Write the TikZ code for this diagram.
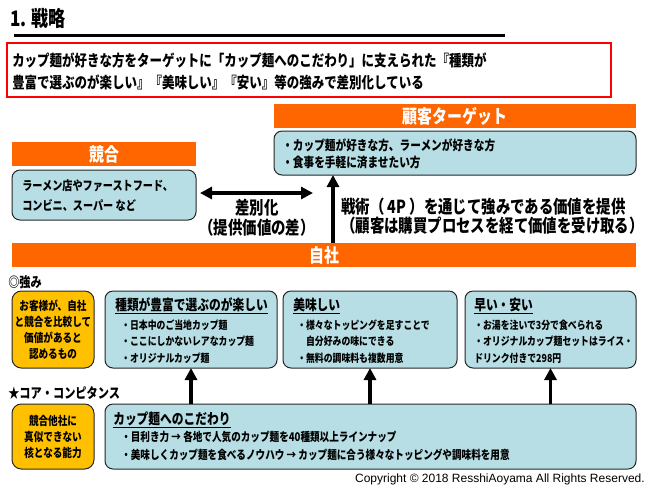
\documentclass[tikz,border=0pt]{standalone}
\usepackage{fontspec}
\setmainfont[FakeStretch=0.8]{Noto Sans CJK JP}
\newfontfamily\latinfont{Liberation Sans}
\usetikzlibrary{arrows.meta,fit}
\definecolor{barorange}{RGB}{255,102,0}
\definecolor{boxblue}{RGB}{183,222,228}
\definecolor{boxyellow}{RGB}{255,192,0}
\newcommand{\fs}[2]{\fontsize{#1}{#2}\selectfont}
\begin{document}
\begin{tikzpicture}[x=0.75pt,y=-0.75pt,
  area/.style={inner sep=0pt, outer sep=0pt},
  bar/.style={area, fill=barorange},
  barlabel/.style={inner sep=0pt, text=white, font=\bfseries\fs{14pt}{16pt}},
  bluebox/.style={area, fill=boxblue, draw=black!85, line width=0.75pt, rounded corners=6pt},
  yellowbox/.style={area, fill=boxyellow, draw=black!85, line width=0.75pt, rounded corners=7pt},
  yellowtext/.style={inner sep=0pt, align=center, font=\bfseries\fs{9pt}{12pt}},
  txt/.style={inner sep=0pt, align=left, anchor=west, font=\bfseries\fs{8.3pt}{12.4pt}},
  boxtitle/.style={inner sep=0pt, anchor=west, font=\bfseries\fs{11pt}{13pt}},
  bigarrow/.style={line width=2.4pt, -{Triangle[length=9pt,width=9pt]}},
  dblarrow/.style={line width=2.4pt, {Triangle[length=9pt,width=9pt]}-{Triangle[length=9pt,width=9pt]}}
]
\useasboundingbox (0,0) rectangle (650,487);

% title
\node[anchor=west, inner sep=0pt, font=\bfseries\fs{16pt}{18pt}] (title) at (10,18) {1. 戦略};
\coordinate (ruleL) at (14,35);
\coordinate (ruleR) at (505,35);
\draw[line width=2.25pt] (ruleL) -- (ruleR);

% summary
\node[area, draw=red, line width=1.5pt, fit={(7,43) (611,97)}] (summary) {};
\node[txt, font=\bfseries\fs{11.7pt}{16.5pt}] (summarytext) at (12,71)
  {カップ麺が好きな方をターゲットに「カップ麺へのこだわり」に支えられた『種類が\\豊富で選ぶのが楽しい』『美味しい』『安い』等の強みで差別化している};

% target
\node[bar, fit={(274,104) (636,128)}] (target) {};
\node[barlabel] (targetlabel) at (target.center) {顧客ターゲット};
\node[bluebox, fit={(274,131) (636,175)}] (cust) {};
\node[txt, font=\bfseries\fs{10pt}{12.75pt}] (custtext) at (282,153.5)
  {・カップ麺が好きな方、ラーメンが好きな方\\・食事を手軽に済ませたい方};

% competitor
\node[bar, fit={(12,142) (196,166)}] (rival) {};
\node[barlabel] (rivallabel) at (rival.center) {競合};
\node[bluebox, fit={(12,170) (196,220)}] (comp) {};
\node[txt, font=\bfseries\fs{9.5pt}{15pt}] (comptext) at (22,196)
  {ラーメン店やファーストフード、\\コンビニ、スーパー など};

\coordinate (diffL) at (200,193);
\coordinate (diffR) at (313,193);
\draw[dblarrow] (diffL) -- (diffR);
\node[inner sep=0pt, align=center, font=\bfseries\fs{13.5pt}{15pt}] (diff) at (257,218)
  {差別化\\（提供価値の差）};

% self
\node[bar, fit={(12,243) (636,267)}] (self) {};
\node[barlabel] (selflabel) at (self.center) {自社};
\coordinate (tacticx) at (333,0);
\draw[bigarrow] (self.north -| tacticx) -- (cust.south -| tacticx);
\node[txt, font=\bfseries\fs{13.5pt}{14.25pt}] (tactic) at (341,216.5)
  {戦術（ 4P ）を通じて強みである価値を提供\\（顧客は購買プロセスを経て価値を受け取る）};

% strengths
\node[anchor=west, inner sep=0pt, font=\bfseries\fs{10.5pt}{12pt}] (strength) at (8,282) {◎強み};
\node[yellowbox, fit={(12,291) (94,368)}] (y1) {};
\node[yellowtext] (y1text) at (y1.center) {お客様が、自社\\と競合を比較して\\価値があると\\認めるもの};

\node[bluebox, fit={(105,291) (277,368)}] (box1) {};
\node[boxtitle] (t1) at (115,306) {\underline{種類が豊富で選ぶのが楽しい}};
\node[txt] (i1) at (121,341.5) {・日本中のご当地カップ麺\\・ここにしかないレアなカップ麺\\・オリジナルカップ麺};

\node[bluebox, fit={(283,291) (457,368)}] (box2) {};
\node[boxtitle] (t2) at (293,306) {\underline{美味しい}};
\node[txt] (i2) at (297,341.5) {・様々なトッピングを足すことで\\\phantom{・}自分好みの味にできる\\・無料の調味料も複数用意};

\node[bluebox, fit={(465,291) (636,368)}] (box3) {};
\node[boxtitle] (t3) at (474,306) {\underline{早い・安い}};
\node[txt] (i3) at (474,341.5) {・お湯を注いで3分で食べられる\\・オリジナルカップ麺セットはライス・\\ドリンク付きで298円};

% core competence
\node[anchor=west, inner sep=0pt, font=\bfseries\fs{10.5pt}{12pt}] (corelabel) at (8,393) {★コア・コンピタンス};
\node[yellowbox, fit={(12,404) (94,469)}] (y2) {};
\node[yellowtext] (y2text) at (y2.center) {競合他社に\\真似できない\\核となる能力};

\node[bluebox, fit={(105,404) (636,469)}] (core) {};
\node[boxtitle] (t4) at (113,420) {\underline{カップ麺へのこだわり}};
\node[txt, font=\bfseries\fs{9pt}{13.5pt}] (i4) at (121,446)
  {・目利き力 → 各地で人気のカップ麺を40種類以上ラインナップ\\・美味しくカップ麺を食べるノウハウ → カップ麺に合う様々なトッピングや調味料を用意};

\draw[bigarrow] (box1.south |- core.north) -- (box1.south);
\draw[bigarrow] (box2.south |- core.north) -- (box2.south);
\draw[bigarrow] (box3.south |- core.north) -- (box3.south);

% copyright
\node[anchor=east, inner sep=0pt, font=\latinfont\fs{9pt}{11pt}] (copy) at (645,479)
  {Copyright © 2018 ResshiAoyama All Rights Reserved.};
\end{tikzpicture}
\end{document}
